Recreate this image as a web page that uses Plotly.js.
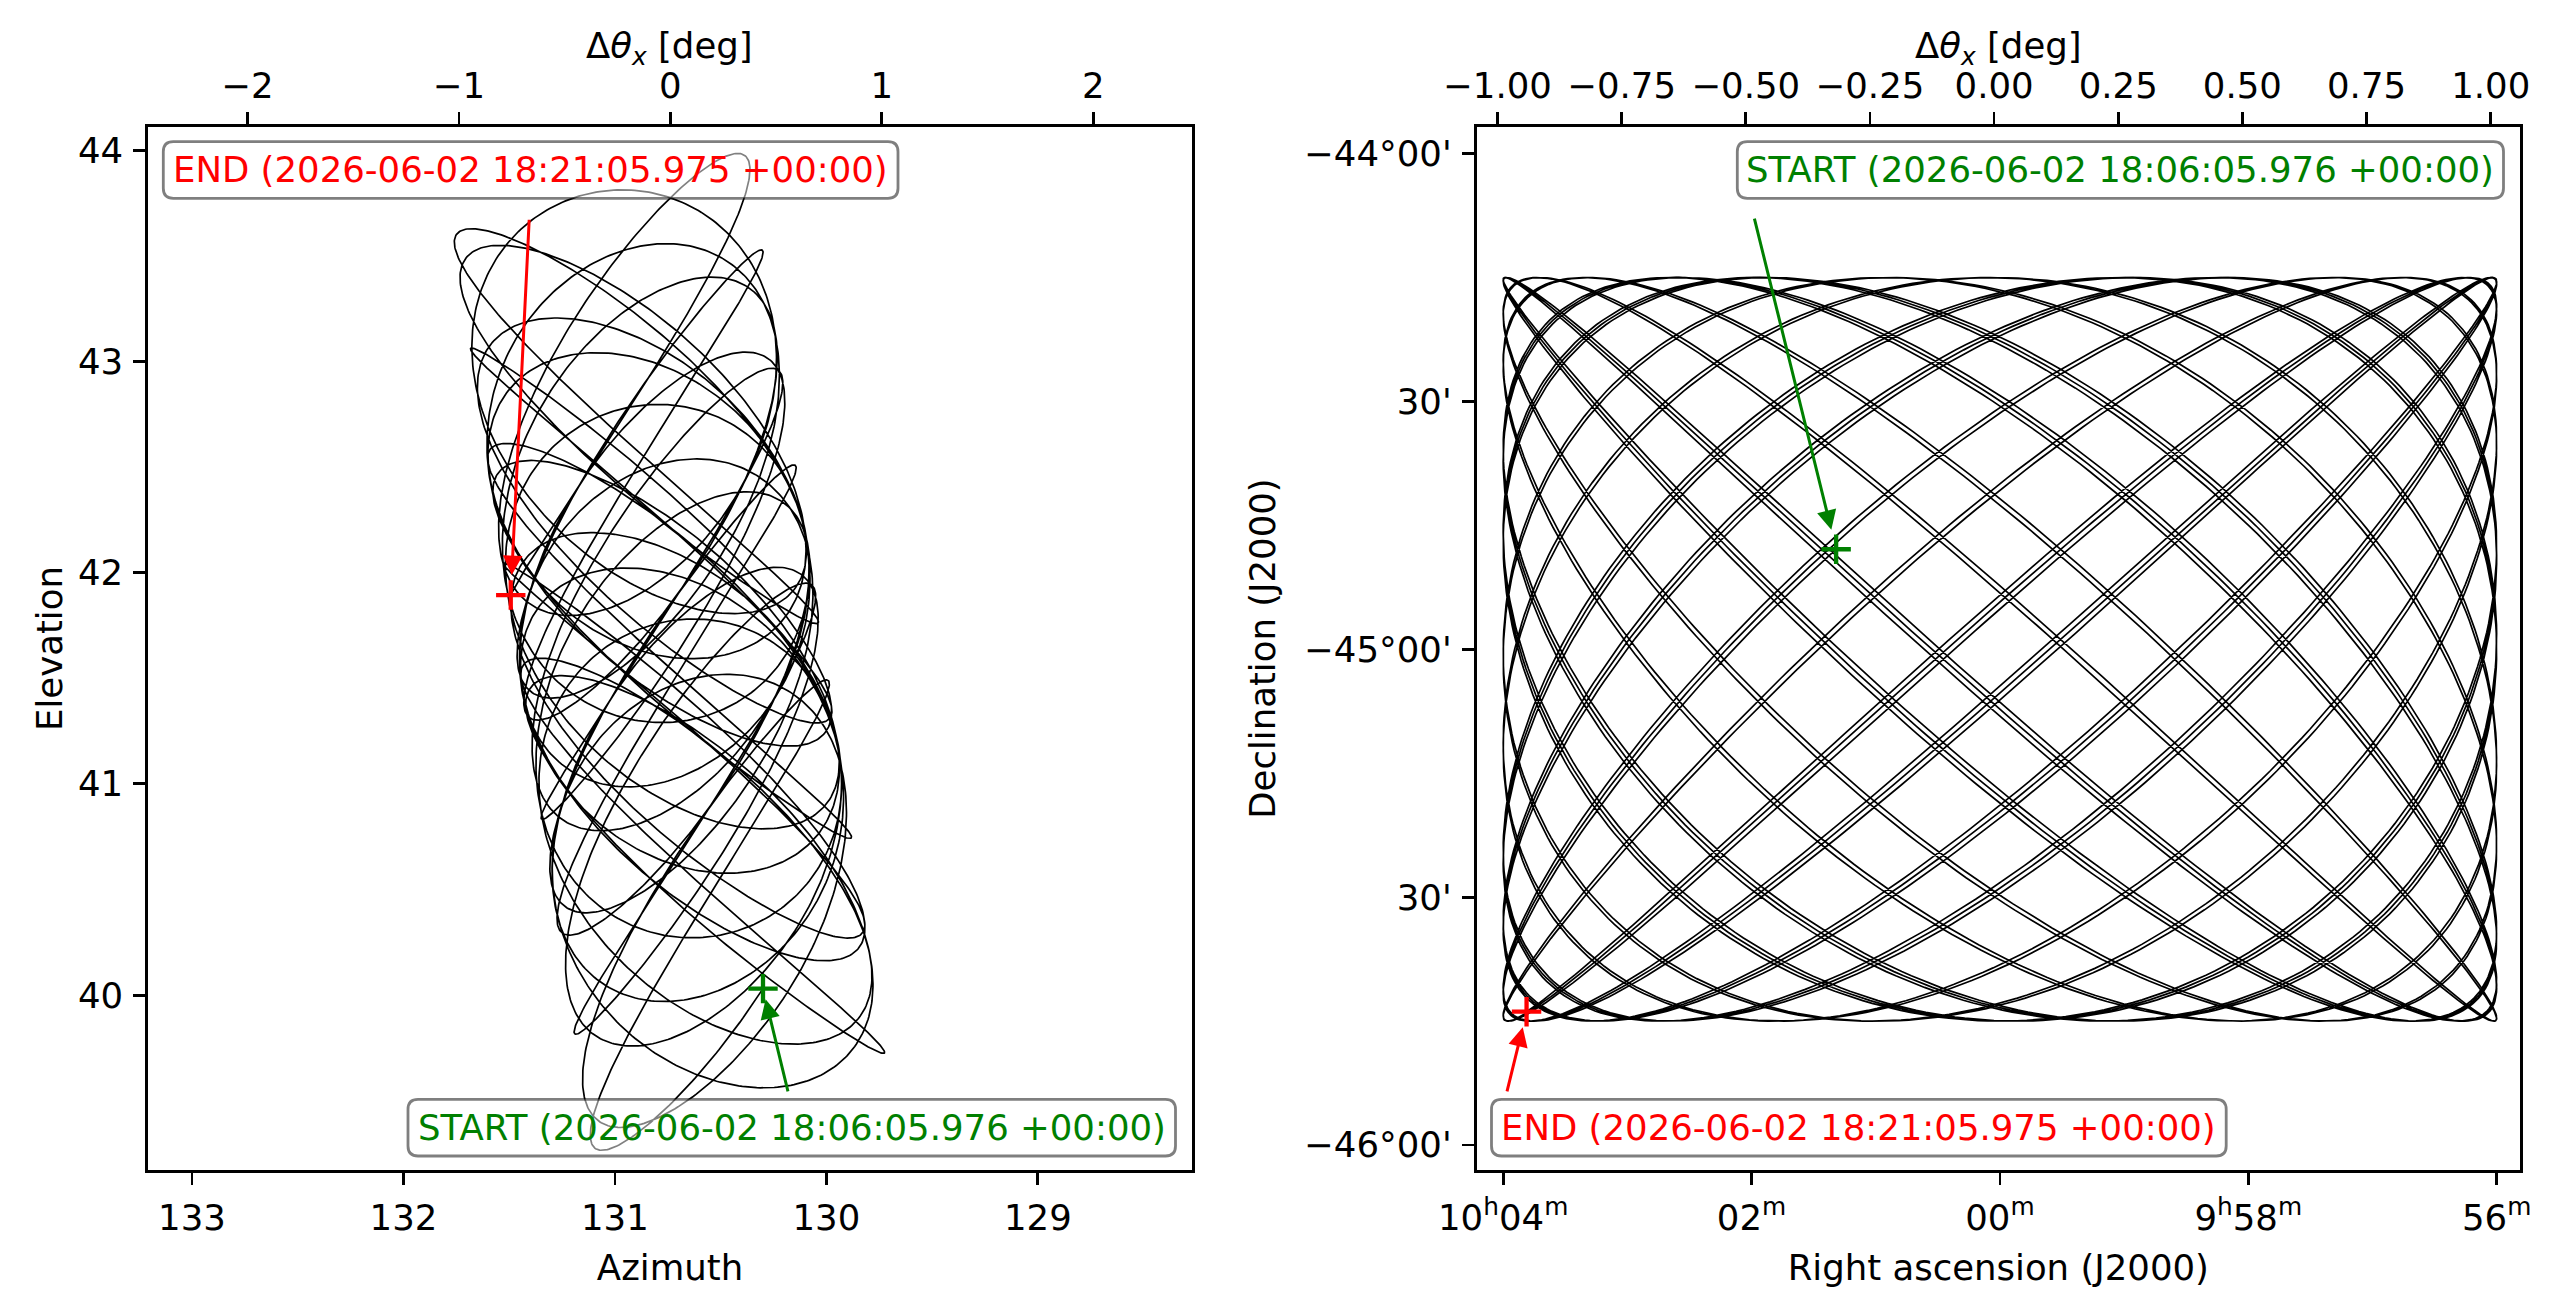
<!DOCTYPE html>
<html>
<head>
<meta charset="utf-8">
<script src="https://cdn.plot.ly/plotly-3.0.1.min.js"></script>
<style>
  html, body { margin: 0; padding: 0; background: #ffffff; }
  #chart { width: 2556px; height: 1309px; }
</style>
</head>
<body>
<div id="chart"></div>
<script>
// ---- scan timing ----
const scanStartLabel = "2026-06-02 18:06:05.976 +00:00";
const scanEndLabel = "2026-06-02 18:21:05.975 +00:00";
const scanDurationSec = 900;
const sampleStepSec = 0.1;

// ---- Lissajous scan in the RA/Dec frame (deg, cycles over the scan, phase at start in rad) ----
const scanCentreRaDec = [150.0, -45.0];
const scanHalfSizeRaDec = [1.0, 0.75];
const scanCyclesRaDec = [28.1475, 33.2575];
const scanPhaseRaDec = [0.336, 2.869];

// ---- the same scan seen in the horizontal frame ----
// az/el of the scan centre at the start and its drift over the scan (deg)
const centreAzElStart = [130.541, 40.335];
const centreAzElDrift = [0.40, 2.604];
// az and el response to one degree of RA / Dec offset
const azPerOffset = [-0.15, -0.95];
const elPerOffset = [-1.0, 0.126];

// ---- ticks ----
const azTicks = [133, 132, 131, 130, 129];
const elTicks = [40, 41, 42, 43, 44];
const leftOffsetTicks = [-2, -1, 0, 1, 2];
const leftOffsetText = ["\u22122", "\u22121", "0", "1", "2"];
const raTicks = [151, 150.5, 150, 149.5, 149];
const raTickText = ["10<sup>h</sup>04<sup>m</sup>", "02<sup>m</sup>", "00<sup>m</sup>", "9<sup>h</sup>58<sup>m</sup>", "56<sup>m</sup>"];
const decTicks = [-46, -45.5, -45, -44.5, -44];
const decTickText = ["\u221246\u00b000'", "30'", "\u221245\u00b000'", "30'", "\u221244\u00b000'"];
const rightOffsetTicks = [-1, -0.75, -0.5, -0.25, 0, 0.25, 0.5, 0.75, 1];
const rightOffsetText = ["\u22121.00", "\u22120.75", "\u22120.50", "\u22120.25", "0.00", "0.25", "0.50", "0.75", "1.00"];

// axis spans (deg)
const azRange = [133.208, 128.271];
const elRange = [39.172, 44.110];
const leftOffsetRange = [-2.4705, 2.4668];
const raRange = [151.0535, 148.953];
const decRange = [-46.0504, -43.9463];
const rightOffsetRange = [-1.042, 1.059];

// ---- build the pointing samples ----
const nSamples = Math.round(scanDurationSec / sampleStepSec) + 1;
const ra = [], dec = [], az = [], el = [];
for (let i = 0; i < nSamples; i++) {
  const f = i / (nSamples - 1);
  const dRa = scanHalfSizeRaDec[0] * Math.sin(2 * Math.PI * scanCyclesRaDec[0] * f + scanPhaseRaDec[0]);
  const dDec = scanHalfSizeRaDec[1] * Math.sin(2 * Math.PI * scanCyclesRaDec[1] * f + scanPhaseRaDec[1]);
  ra.push(scanCentreRaDec[0] + dRa);
  dec.push(scanCentreRaDec[1] + dDec);
  az.push(centreAzElStart[0] + centreAzElDrift[0] * f + azPerOffset[0] * dRa + azPerOffset[1] * dDec);
  el.push(centreAzElStart[1] + centreAzElDrift[1] * f + elPerOffset[0] * dRa + elPerOffset[1] * dDec);
}
const last = nSamples - 1;

const GREEN = "#008000", RED = "#ff0000";
const FS = 35.5;
const FONT = { family: "DejaVu Sans", size: FS, color: "#000000" };

const traces = [
  { type: "scatter", mode: "lines", x: az, y: el, xaxis: "x", yaxis: "y",
    line: { color: "#000000", width: 1.7 }, hoverinfo: "skip", showlegend: false },
  { type: "scatter", mode: "lines", x: ra, y: dec, xaxis: "x3", yaxis: "y2",
    line: { color: "#000000", width: 1.7 }, hoverinfo: "skip", showlegend: false },
  { type: "scatter", mode: "markers", x: [az[0]], y: [el[0]], xaxis: "x", yaxis: "y",
    marker: { symbol: "cross-thin", size: 21, line: { color: GREEN, width: 4.3 } }, showlegend: false },
  { type: "scatter", mode: "markers", x: [az[last]], y: [el[last]], xaxis: "x", yaxis: "y",
    marker: { symbol: "cross-thin", size: 21, line: { color: RED, width: 4.3 } }, showlegend: false },
  { type: "scatter", mode: "markers", x: [ra[0]], y: [dec[0]], xaxis: "x3", yaxis: "y2",
    marker: { symbol: "cross-thin", size: 21, line: { color: GREEN, width: 4.3 } }, showlegend: false },
  { type: "scatter", mode: "markers", x: [ra[last]], y: [dec[last]], xaxis: "x3", yaxis: "y2",
    marker: { symbol: "cross-thin", size: 21, line: { color: RED, width: 4.3 } }, showlegend: false },
  // the offset axes along the top carry no marks of their own; these keep them drawn
  { type: "scatter", mode: "markers", x: leftOffsetRange, y: [elRange[0], elRange[0]], xaxis: "x2", yaxis: "y",
    marker: { opacity: 0, size: 1 }, hoverinfo: "skip", showlegend: false },
  { type: "scatter", mode: "markers", x: rightOffsetRange, y: [decRange[0], decRange[0]], xaxis: "x4", yaxis: "y2",
    marker: { opacity: 0, size: 1 }, hoverinfo: "skip", showlegend: false }
];

// ---- page geometry (px) ----
const W = 2556, H = 1309;
const M = { l: 148, r: 36, t: 127, b: 139 };
const PW = W - M.l - M.r, PH = H - M.t - M.b;
const px2x = px => (px - M.l) / PW;
const px2y = py => (H - M.b - py) / PH;

function axis(extra) {
  return Object.assign({
    showgrid: false, zeroline: false, showline: true, linecolor: "#000000", linewidth: 2.8,
    ticks: "outside", ticklen: 12, tickwidth: 2.8, tickcolor: "#000000",
    tickfont: FONT, ticklabelstandoff: 3, fixedrange: true, tickmode: "array", autorange: false
  }, extra);
}

const offsetTitle = "\u0394<i>\u03b8</i><sub><i>x</i></sub> [deg]";

const layout = {
  width: W, height: H,
  margin: M,
  paper_bgcolor: "#ffffff", plot_bgcolor: "#ffffff",
  font: FONT, showlegend: false,
  xaxis: axis({ domain: [0, 1044 / PW], range: azRange, anchor: "y",
    tickvals: azTicks, ticktext: azTicks.map(String),
    title: { text: "Azimuth", font: FONT, standoff: 18 } }),
  xaxis2: axis({ overlaying: "x", side: "top", anchor: "y", range: leftOffsetRange,
    tickvals: leftOffsetTicks, ticktext: leftOffsetText, ticklabelstandoff: 0 }),
  yaxis: axis({ domain: [0, 1], range: elRange, anchor: "x", mirror: true,
    tickvals: elTicks, ticktext: elTicks.map(String),
    title: { text: "Elevation", font: FONT, standoff: 5 } }),
  xaxis3: axis({ domain: [(1476.6 - M.l) / PW, 1], range: raRange, anchor: "y2",
    tickvals: raTicks, ticktext: raTickText,
    title: { text: "Right ascension (J2000)", font: FONT, standoff: 18 } }),
  xaxis4: axis({ overlaying: "x3", side: "top", anchor: "y2", range: rightOffsetRange,
    tickvals: rightOffsetTicks, ticktext: rightOffsetText, ticklabelstandoff: 0 }),
  yaxis2: axis({ domain: [0, 1], range: decRange, anchor: "x3", mirror: true,
    tickvals: decTicks, ticktext: decTickText,
    title: { text: "Declination (J2000)", font: FONT, standoff: 18 } }),
  shapes: [],
  annotations: []
};

// titles of the top offset axes
[669.8, 1998.4].forEach(cx => {
  layout.annotations.push({ xref: "paper", yref: "paper", x: px2x(cx), y: px2y(48),
    xanchor: "center", yanchor: "middle", text: offsetTitle, showarrow: false, font: FONT });
});

// rounded, half-transparent label boxes
const labelBoxes = [
  { box: [163.3, 141.7, 898.0, 198.3], text: "END (" + scanEndLabel + ")", color: RED },
  { box: [408.0, 1099.3, 1175.5, 1156.0], text: "START (" + scanStartLabel + ")", color: GREEN },
  { box: [1737.3, 141.7, 2503.5, 198.3], text: "START (" + scanStartLabel + ")", color: GREEN },
  { box: [1491.5, 1099.3, 2226.2, 1156.0], text: "END (" + scanEndLabel + ")", color: RED }
];
const rad = 10;
labelBoxes.forEach(b => {
  const [x0p, y0p, x1p, y1p] = b.box;
  const x0 = px2x(x0p), x1 = px2x(x1p), yT = px2y(y0p), yB = px2y(y1p);
  const rx = rad / PW, ry = rad / PH;
  const path = `M ${x0 + rx},${yT} L ${x1 - rx},${yT} Q ${x1},${yT} ${x1},${yT - ry} ` +
    `L ${x1},${yB + ry} Q ${x1},${yB} ${x1 - rx},${yB} L ${x0 + rx},${yB} Q ${x0},${yB} ${x0},${yB + ry} ` +
    `L ${x0},${yT - ry} Q ${x0},${yT} ${x0 + rx},${yT} Z`;
  layout.shapes.push({ type: "path", xref: "paper", yref: "paper", path: path, layer: "above",
    fillcolor: "rgba(255,255,255,0.5)", line: { color: "rgba(0,0,0,0.5)", width: 2.8 } });
  layout.annotations.push({ xref: "paper", yref: "paper", x: (x0 + x1) / 2, y: (yT + yB) / 2,
    xanchor: "center", yanchor: "middle", text: b.text, showarrow: false,
    font: { family: "DejaVu Sans", size: FS, color: b.color } });
});

// arrows from the label boxes to the first and last samples
const arrows = [
  { xref: "x", yref: "y", x: az[0], y: el[0], ax: 130.180, ay: 39.537, color: GREEN, standoff: 11 },
  { xref: "x", yref: "y", x: az[last], y: el[last], ax: 131.405, ay: 43.678, color: RED, standoff: 20 },
  { xref: "x3", yref: "y2", x: ra[0], y: dec[0], ax: 150.495, ay: -44.128, color: GREEN, standoff: 20 },
  { xref: "x3", yref: "y2", x: ra[last], y: dec[last], ax: 150.993, ay: -45.895, color: RED, standoff: 16 }
];
arrows.forEach(a => {
  layout.annotations.push({ xref: a.xref, yref: a.yref, x: a.x, y: a.y,
    axref: a.xref, ayref: a.yref, ax: a.ax, ay: a.ay, text: "", showarrow: true,
    arrowhead: 2, arrowsize: 1.3, arrowwidth: 3, arrowcolor: a.color, standoff: a.standoff });
});

Plotly.newPlot("chart", traces, layout, { staticPlot: true, displayModeBar: false });
</script>
</body>
</html>
